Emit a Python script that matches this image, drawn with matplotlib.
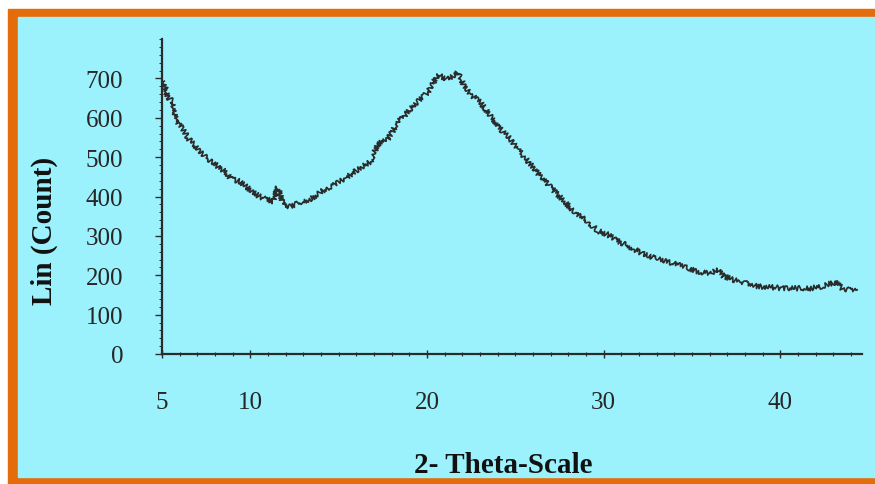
import numpy as np
import matplotlib
matplotlib.use("Agg")
import matplotlib.pyplot as plt
from matplotlib.patches import Rectangle
from matplotlib.ticker import MultipleLocator

# values
two_theta = [5.13, 5.23, 5.40, 5.62, 5.79, 5.96, 6.19, 6.53, 6.81, 7.09, 7.49, 7.88,
             8.22, 8.62, 8.90, 9.35, 9.75, 10.14, 10.48, 10.88, 11.27, 11.56, 11.84,
             12.18, 12.57, 12.97, 13.42, 13.99, 14.55, 15.12, 15.68, 16.25, 16.81,
             17.21, 17.78, 18.34, 18.91, 19.47, 20.04, 20.32, 20.60, 21.17, 21.73,
             22.07, 22.47, 23.03, 23.60, 24.16, 24.73, 25.29, 25.86, 26.42, 26.99,
             27.55, 28.29, 29.08, 29.70, 30.21, 30.78, 31.51, 32.25, 33.04, 33.77,
             34.51, 35.30, 36.03, 36.43, 36.77, 37.56, 37.90, 38.69, 39.43, 40.16,
             40.95, 41.69, 42.42, 43.10, 43.55, 44.34]
counts = [693, 664, 647, 642, 591, 583, 571, 545, 533, 515, 500, 487,
          474, 462, 444, 439, 426, 411, 401, 393, 388, 424, 385,
          375, 380, 388, 393, 413, 424, 439, 456, 474, 489,
          533, 545, 588, 614, 642, 664, 685, 710, 697, 715,
          685, 659, 639, 604, 571, 545, 512, 482, 451, 424,
          398, 363, 337, 312, 304, 287, 271, 254, 241, 233,
          223, 210, 203, 216, 198, 185, 183, 172, 170, 167,
          167, 167, 172, 183, 165, 160]

x_ticks = [5, 10, 20, 30, 40]
y_ticks = [0, 100, 200, 300, 400, 500, 600, 700]

cyan = '#9bf2fc'
orange = '#e46c0a'
ink = '#2b2b2b'

W, H = 875, 485
fig = plt.figure(figsize=(W / 100, H / 100), dpi=100)
fig.patch.set_facecolor('white')

def px_rect(x0, y0, x1, y1, color):
    # rectangle given in image pixels (origin top-left)
    fig.patches.append(Rectangle((x0 / W, 1 - y1 / H), (x1 - x0) / W, (y1 - y0) / H,
                                 transform=fig.transFigure, color=color, zorder=-10))

px_rect(8, 10, W + 5, H + 5, orange)
px_rect(18, 18, W + 5, 478, cyan)

ax = fig.add_axes([162 / W, 1 - 355 / H, (861.6 - 162) / W, (355 - 40) / H])
ax.set_facecolor('none')

line, = ax.plot(two_theta, counts, color=ink, lw=1.2)
line.set_sketch_params(scale=2.6, length=2.0, randomness=3)

ax.set_xlim(5, 44.6)
ax.set_ylim(0, 800)

for s in ['top', 'right']:
    ax.spines[s].set_visible(False)
for s in ['left', 'bottom']:
    ax.spines[s].set_color(ink)
    ax.spines[s].set_linewidth(1.6)

serif = 'Liberation Serif'
ax.set_xticks(x_ticks)
ax.set_yticks(y_ticks)
ax.set_xticklabels([str(v) for v in x_ticks], family=serif, fontsize=18, color='#262626')
ax.set_yticklabels([str(v) for v in y_ticks], family=serif, fontsize=18, color='#262626')
ax.xaxis.set_minor_locator(MultipleLocator(1))
ax.yaxis.set_minor_locator(MultipleLocator(20))
ax.tick_params(axis='x', which='major', direction='inout', length=6, width=1, color=ink, pad=24)
ax.tick_params(axis='x', which='minor', direction='inout', length=3, width=0.8, color=ink)
ax.tick_params(axis='y', which='major', direction='out', length=5, width=1, color=ink, pad=23)
ax.tick_params(axis='y', which='minor', direction='out', length=2.5, width=0.7, color=ink)

fig.text(44 / W, 1 - 231 / H, 'Lin (Count)', rotation=90, ha='center', va='center',
         family=serif, fontsize=21, fontweight='bold', color='#111111')
fig.text(503 / W, 1 - 466 / H, '2- Theta-Scale', ha='center', va='center',
         family=serif, fontsize=21, fontweight='bold', color='#111111')

fig.savefig('out.png', dpi=100)
